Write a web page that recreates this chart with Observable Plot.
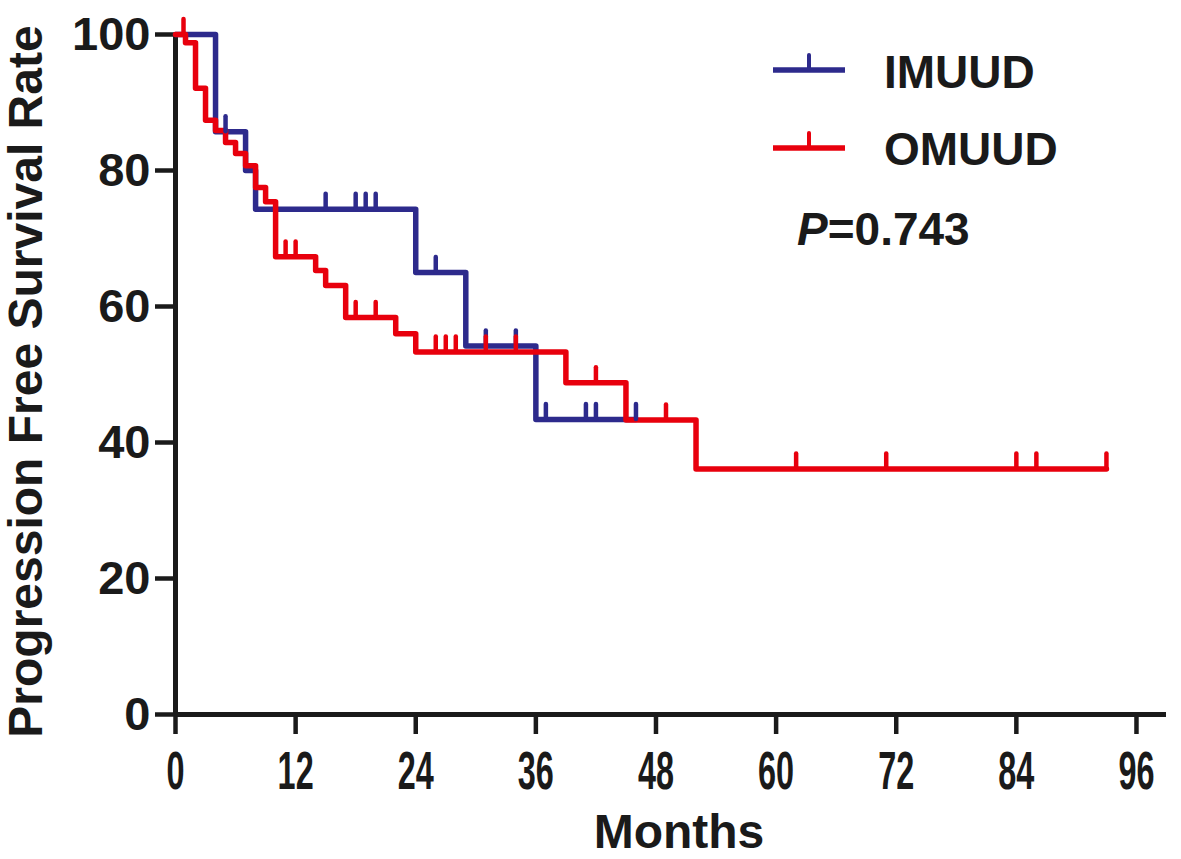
<!DOCTYPE html>
<html><head><meta charset="utf-8">
<script src="https://cdn.jsdelivr.net/npm/d3@7"></script>
<script src="https://cdn.jsdelivr.net/npm/@observablehq/plot@0.6"></script>
<style>
html,body{margin:0;padding:0;background:#fff;}
#wrap{position:relative;width:1181px;height:859px;font-family:"Liberation Sans",Arial,sans-serif;font-weight:bold;color:#1a1a1a;}
.leg{position:absolute;font-size:46px;line-height:1;white-space:nowrap;}
.sw{position:absolute;}
</style></head><body><div id="wrap"></div>
<script>
// ---- data ----
const xTicks = [0, 12, 24, 36, 48, 60, 72, 84, 96];
const yTicks = [0, 20, 40, 60, 80, 100];
const seriesNames = ["IMUUD", "OMUUD"];
const seriesColors = ["#2d2a8c", "#e8000d"];
const pValueText = "=0.743";

const imuudTime = [0, 4, 7, 8, 24, 29, 36, 46];
const imuudSurv = [100, 85.7, 80.0, 74.3, 65.0, 54.2, 43.4, 43.4];
const imuudCensor = [5, 15, 18, 19, 20, 26, 31, 34, 37, 41, 42, 46];

const omuudTime = [0, 1, 2, 3, 4, 5, 6, 7, 8, 9, 10, 14, 15, 17, 22, 24, 39, 45, 52, 93];
const omuudSurv = [100, 98.8, 92.1, 87.4, 85.9, 84.1, 82.5, 80.7, 77.5, 75.4, 67.3, 65.3, 63.1, 58.4, 56.0, 53.3, 48.8, 43.3, 36.1, 36.1];
const omuudCensor = [0.8, 11, 12, 18, 20, 26, 27, 28, 31, 34, 42, 49, 62, 71, 84, 86, 93];

// ---- build tables ----
function stepRows(name, times, surv) {
  return times.map((t, i) => ({group: name, t, s: surv[i]}));
}
function censorRows(name, cens, times, surv) {
  return cens.map(t => {
    let v = surv[0];
    for (let i = 0; i < times.length; i++) if (times[i] <= t) v = surv[i];
    return {group: name, t, s: v};
  });
}
const steps = [...stepRows(seriesNames[0], imuudTime, imuudSurv), ...stepRows(seriesNames[1], omuudTime, omuudSurv)];
const censors = [...censorRows(seriesNames[0], imuudCensor, imuudTime, imuudSurv), ...censorRows(seriesNames[1], omuudCensor, omuudTime, omuudSurv)];

const font = '"Liberation Sans", Arial, sans-serif';
const plot = Plot.plot({
  width: 1181, height: 859,
  marginLeft: 175, marginRight: 15, marginTop: 34, marginBottom: 145,
  x: {domain: [0, 99]},
  y: {domain: [0, 100]},
  color: {domain: seriesNames, range: seriesColors},
  style: {fontFamily: font, fontWeight: "bold", color: "#1a1a1a", background: "white", overflow: "visible"},
  marks: [
    Plot.axisX({ticks: xTicks, tickSize: 20, tickPadding: 16, fontSize: 54, strokeWidth: 4.5, label: null, tickFormat: d => String(d)}),
    Plot.axisY({ticks: yTicks, tickSize: 20, tickPadding: 5, fontSize: 47, strokeWidth: 4.5, label: null, tickFormat: d => String(d)}),
    Plot.ruleY([0], {strokeWidth: 5, stroke: "#1a1a1a"}),
    Plot.ruleX([0], {strokeWidth: 5, stroke: "#1a1a1a"}),
    Plot.line(steps, {x: "t", y: "s", z: "group", stroke: "group", curve: "step-after", strokeWidth: 5.5, strokeLinejoin: "round"}),
    Plot.ruleX(censors, {x: "t", y1: "s", y2: d => d.s + 2.2, stroke: "group", strokeWidth: 4.5, strokeLinecap: "round"}),
    Plot.text(["Progression Free Survival Rate"], {frameAnchor: "left", textAnchor: "middle", rotate: -90, dx: -149, dy: 7, lineAnchor: "middle", fontSize: 48, fill: "#1a1a1a"}),
    Plot.text(["Months"], {frameAnchor: "bottom", dx: 8, dy: 118, lineAnchor: "middle", fontSize: 48, fill: "#1a1a1a"})
  ]
});

// condensed x tick labels
d3.select(plot).selectAll('g[aria-label="x-axis tick label"] text').each(function() {
  const t = this.getAttribute("transform");
  if (t) this.setAttribute("transform", t + " scale(0.6,1)");
  else {
    const x = +this.getAttribute("x") || 0, y = +this.getAttribute("y") || 0;
    this.removeAttribute("x"); this.removeAttribute("y");
    this.setAttribute("transform", `translate(${x},${y}) scale(0.6,1)`);
  }
});

const wrap = document.getElementById("wrap");
wrap.appendChild(plot);

// legend
const legTop = [49, 126];
const lineY = [70, 148];
seriesNames.forEach((name, i) => {
  const sw = d3.select(wrap).append("svg").attr("class", "sw")
    .style("left", "770px").style("top", (lineY[i] - 20) + "px")
    .attr("width", 80).attr("height", 30);
  sw.append("line").attr("x1", 3).attr("x2", 75).attr("y1", 20).attr("y2", 20)
    .attr("stroke", seriesColors[i]).attr("stroke-width", 5.5);
  sw.append("line").attr("x1", 39).attr("x2", 39).attr("y1", 20).attr("y2", 5)
    .attr("stroke", seriesColors[i]).attr("stroke-width", 4).attr("stroke-linecap", "round");
  d3.select(wrap).append("div").attr("class", "leg")
    .style("left", "884px").style("top", legTop[i] + "px").text(name);
});
const p = d3.select(wrap).append("div").attr("class", "leg").style("left", "797px").style("top", "206px");
p.append("i").text("P");
p.append("span").text(pValueText);
</script>
</body></html>
